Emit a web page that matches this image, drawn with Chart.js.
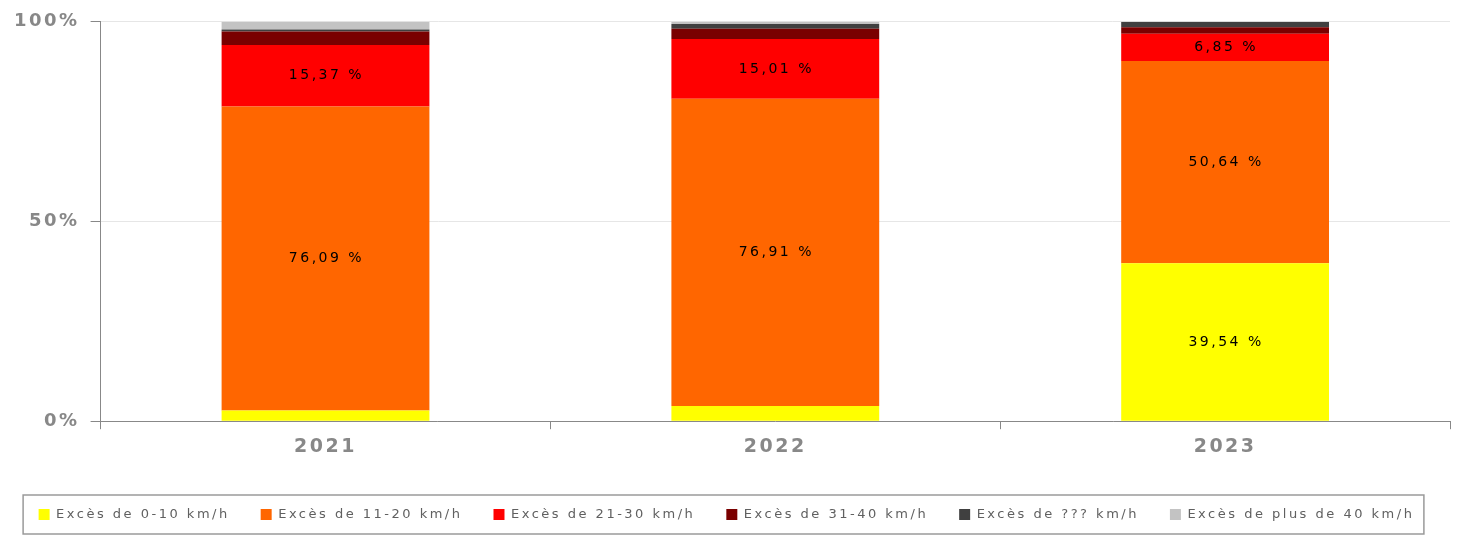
<!DOCTYPE html>
<html>
<head>
<meta charset="utf-8">
<script src="https://cdn.jsdelivr.net/npm/chart.js@4/dist/chart.umd.min.js"></script>
<style>
  html, body { margin: 0; padding: 0; background: #fff; }
  #wrap { width: 1457px; height: 546px; position: relative; }
</style>
</head>
<body>
<div id="wrap"><canvas id="chart"></canvas></div>
<script>
// Répartition des excès de vitesse par année (en %)
const annees = ['2021', '2022', '2023'];
const exces0_10 = [2.70, 3.80, 39.54];
const exces11_20 = [76.09, 76.91, 50.64];
const exces21_30 = [15.37, 15.01, 6.85];
const exces31_40 = [3.40, 2.55, 1.60];
const excesInconnu = [0.50, 1.20, 1.37];
const excesPlus40 = [1.94, 0.53, 0];
const yTicks = [0, 50, 100];

const GRIS = '#888888';
const ESPACE = '2.5px'; // le rendu d'origine espace fortement les lettres

// espacement des lettres sur tout le canvas (mesure + dessin)
const espacement = {
  id: 'espacement',
  beforeLayout(chart) { chart.ctx.letterSpacing = ESPACE; },
  beforeDraw(chart) { chart.ctx.letterSpacing = ESPACE; },
};

// valeurs au centre des segments (seulement les segments assez hauts)
const etiquettes = {
  id: 'etiquettes',
  afterDatasetsDraw(chart) {
    const ctx = chart.ctx;
    ctx.save();
    ctx.letterSpacing = ESPACE;
    ctx.font = '14px "DejaVu Sans"';
    ctx.fillStyle = '#000';
    ctx.textAlign = 'center';
    ctx.textBaseline = 'middle';
    chart.data.datasets.forEach((ds, i) => {
      chart.getDatasetMeta(i).data.forEach((bar, j) => {
        const v = ds.data[j];
        if (v < 5) return;
        const txt = v.toFixed(2).replace('.', ',') + ' %';
        ctx.fillText(txt, bar.x + 1, (bar.y + bar.base) / 2);
      });
    });
    ctx.restore();
  },
};

// cadre autour de la légende
const cadreLegende = {
  id: 'cadreLegende',
  afterDraw(chart) {
    const boxes = chart.legend && chart.legend.legendHitBoxes;
    if (!boxes || !boxes.length) return;
    const left = Math.min(...boxes.map(b => b.left)) - 16;
    const right = Math.max(...boxes.map(b => b.left + b.width)) + 9;
    const mid = boxes[0].top + boxes[0].height / 2;
    const ctx = chart.ctx;
    ctx.save();
    ctx.strokeStyle = '#9a9a9a';
    ctx.lineWidth = 1.5;
    ctx.strokeRect(left + 0.5, mid - 19.5, right - left, 39);
    ctx.restore();
  },
};

function serie(label, data, couleur) {
  return { label, data, backgroundColor: couleur, borderWidth: 0, barPercentage: 0.462, categoryPercentage: 1 };
}

new Chart(document.getElementById('chart'), {
  type: 'bar',
  data: {
    labels: annees,
    datasets: [
      serie('Excès de 0-10 km/h', exces0_10, '#ffff00'),
      serie('Excès de 11-20 km/h', exces11_20, '#ff6600'),
      serie('Excès de 21-30 km/h', exces21_30, '#ff0000'),
      serie('Excès de 31-40 km/h', exces31_40, '#7a0000'),
      serie('Excès de ??? km/h', excesInconnu, '#404040'),
      serie('Excès de plus de 40 km/h', excesPlus40, '#c3c3c3'),
    ],
  },
  options: {
    responsive: true,
    maintainAspectRatio: false,
    animation: false,
    layout: { padding: { top: 21, right: 7, left: 3, bottom: 15 } },
    font: { family: '"DejaVu Sans"' },
    scales: {
      x: {
        stacked: true,
        afterFit: (scale) => { scale.height += 13; },
        border: { color: GRIS, width: 1 },
        grid: { offset: true, drawOnChartArea: false, drawTicks: true, tickLength: 8, tickColor: GRIS },
        ticks: { color: GRIS, padding: 6, font: { family: '"DejaVu Sans"', size: 19, weight: 'bold' } },
      },
      y: {
        stacked: true,
        min: 0,
        max: 100,
        afterBuildTicks: (axis) => { axis.ticks = yTicks.map(v => ({ value: v })); },
        border: { color: GRIS, width: 1 },
        grid: { color: '#e6e6e6', tickColor: GRIS, tickLength: 10 },
        ticks: {
          color: GRIS,
          padding: 11,
          font: { family: '"DejaVu Sans"', size: 18, weight: 'bold' },
          callback: (v) => v + '%',
        },
      },
    },
    plugins: {
      legend: {
        position: 'bottom',
        labels: {
          color: '#606060',
          boxWidth: 11,
          boxHeight: 11,
          padding: 31,
          font: { family: '"DejaVu Sans"', size: 13 },
        },
      },
      tooltip: { enabled: false },
    },
  },
  plugins: [espacement, etiquettes, cadreLegende],
});
</script>
</body>
</html>
